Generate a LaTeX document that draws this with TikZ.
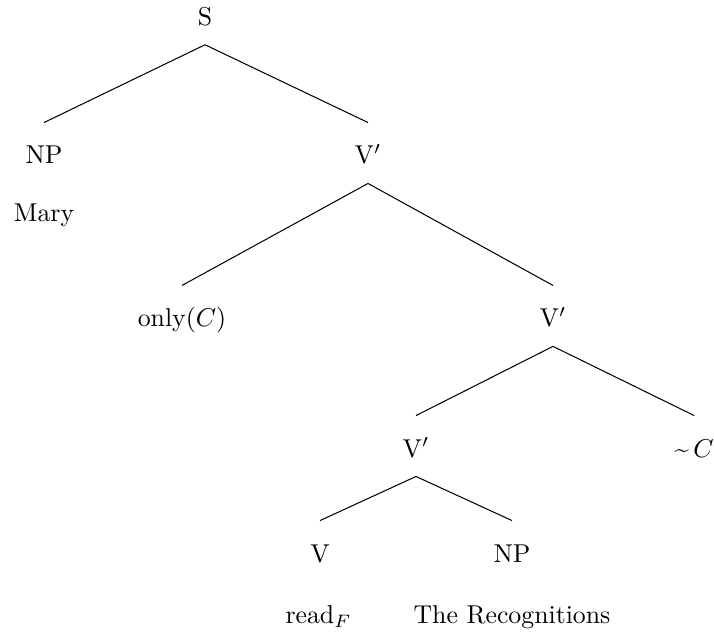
\documentclass[tikz,border=0pt]{standalone}
\usepackage{amsmath}
\usepackage{amssymb}

\begin{document}
\begin{tikzpicture}[scale=1.0,
  cat/.style={inner sep=1pt, text height=1.5ex, text depth=.25ex},
  branch/.style={black, thin}]

\useasboundingbox (0,0) rectangle (9.73,-8.63);

\node[cat] (S) at (2.794,-0.25) {S};

\node[cat] (NPa) at (0.60,-2.14) {NP};
\node[cat] (Va) at (5.015,-2.14) {V$'$};
\node[cat] (Mary) at (0.60,-2.93) {Mary};

\node[cat] (only) at (2.48,-4.36) {only$(C)$};
\node[cat] (Vb) at (7.536,-4.36) {V$'$};

\node[cat] (Vc) at (5.669,-6.133) {V$'$};
\node[cat] (sqC) at (9.46,-6.133) {\textasciitilde\,$C$};

\node[cat] (V) at (4.361,-7.564) {V};
\node[cat] (NPb) at (6.977,-7.564) {NP};
\node[cat] (read) at (4.34,-8.40) {read$_F$};
\node[cat] (book) at (6.977,-8.40) {The Recognitions};

\foreach \p/\c in {S/NPa,S/Va,Va/only,Va/Vb,Vb/Vc,Vb/sqC,Vc/V,Vc/NPb} {
  \draw[branch] ([yshift=-0.36cm]\p.center) -- ([yshift=0.47cm]\c.center);
}

\end{tikzpicture}
\end{document}
